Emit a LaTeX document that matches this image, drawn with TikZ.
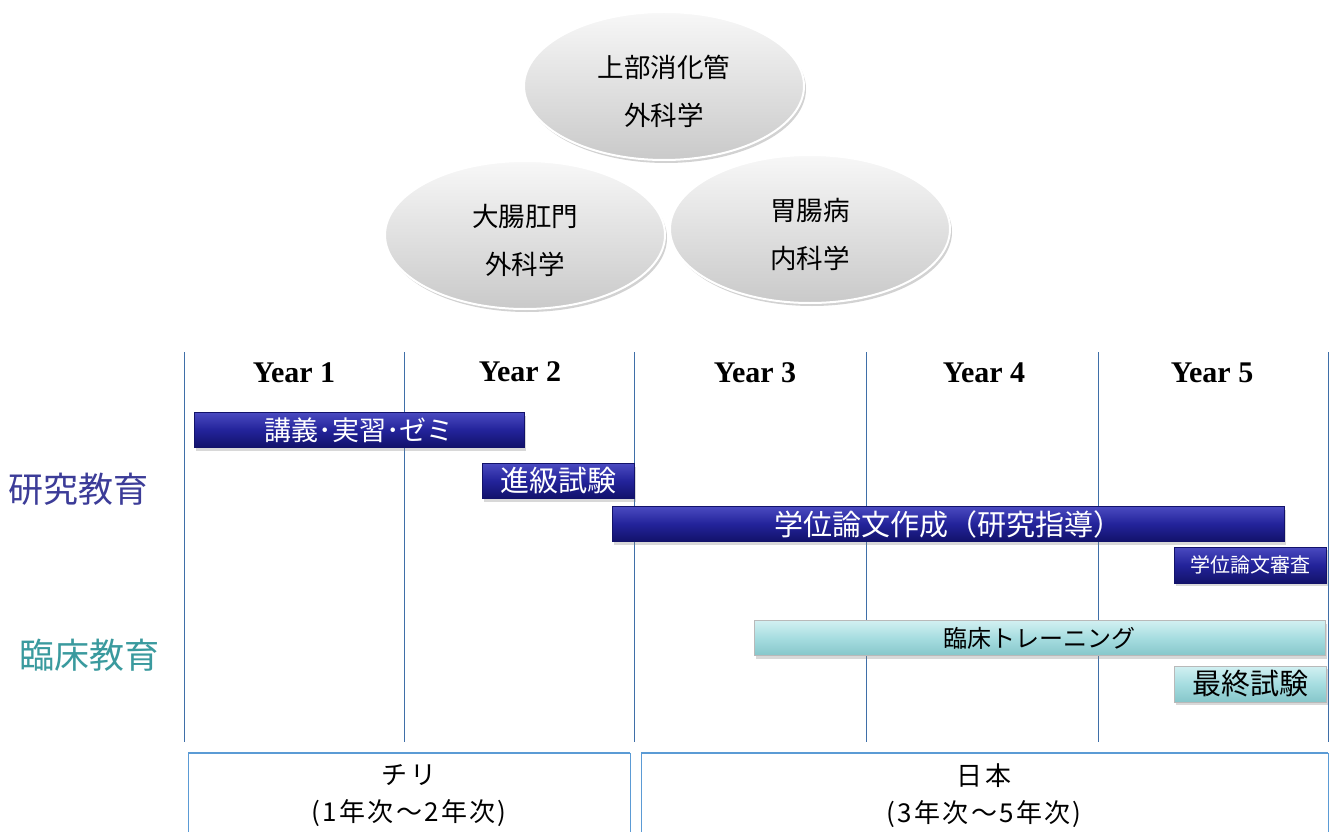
\documentclass[tikz,border=0pt]{standalone}
\usepackage{fontspec}
\setmainfont{Liberation Serif}
\newfontfamily\jp{Noto Sans CJK JP}
\newfontfamily\jpwide{Noto Sans CJK JP}[LetterSpace=9]
\usetikzlibrary{shadows,shapes.geometric}
\definecolor{barblueT}{HTML}{4A4AC0}
\definecolor{barblueM}{HTML}{23239A}
\definecolor{barblueB}{HTML}{12126A}
\definecolor{barcyanT}{HTML}{D2F0F2}
\definecolor{barcyanM}{HTML}{A6DDE0}
\definecolor{barcyanB}{HTML}{86C6CA}
\definecolor{gridline}{HTML}{3F6FA8}
\definecolor{boxline}{HTML}{5B9BD5}
\definecolor{labblue}{HTML}{3C3C98}
\definecolor{labteal}{HTML}{3A9A9E}
\tikzset{
  x=1pt,y=-1pt,
  oval/.style={ellipse,draw=white,line width=2pt,top color=gray!6,bottom color=gray!42,
    drop shadow={opacity=0.35,shadow xshift=2pt,shadow yshift=-3pt},
    minimum width=280pt,minimum height=148pt,inner sep=0pt,align=center,
    font=\jp\fontsize{26.5}{48}\selectfont},
  bluebar/.style={rectangle,draw=barblueB,line width=0.6pt,top color=barblueT,bottom color=barblueB,middle color=barblueM,
    drop shadow={opacity=0.3,shadow xshift=2pt,shadow yshift=-3pt},
    minimum height=35pt,inner sep=0pt,text=white,font=\jp\fontsize{29}{29}\selectfont},
  cyanbar/.style={rectangle,draw=gray!55,line width=0.6pt,top color=barcyanT,bottom color=barcyanB,middle color=barcyanM,
    drop shadow={opacity=0.3,shadow xshift=2pt,shadow yshift=-3pt},
    minimum height=35pt,inner sep=0pt,text=black,font=\jp\fontsize{24}{24}\selectfont},
  yearlab/.style={font=\bfseries\fontsize{30}{30}\selectfont,inner sep=0pt},
  gline/.style={draw=gridline,line width=0.8pt},
  sidelab/.style={font=\jp\fontsize{35}{35}\selectfont,inner sep=0pt},
  boxtext/.style={font=\jpwide\fontsize{26}{37}\selectfont,align=center,inner sep=0pt},
}
\newcommand{\lift}{\rule{0pt}{34pt}}
\begin{document}
\begin{tikzpicture}
\useasboundingbox[fill=white] (0,0) rectangle (1335,832);
% ellipses
\node[oval] (upper) at (664,86) {\lift 上部消化管\\外科学};
\node[oval] (colon) at (525,235) {\lift 大腸肛門\\外科学};
\node[oval] (gastro) at (810,229) {\lift 胃腸病\\内科学};
% grid lines
\foreach \n/\x in {a/184,b/404,c/634,d/866,e/1098,f/1328}{
  \coordinate (t\n) at (\x,352);
  \coordinate (b\n) at (\x,742);
  \draw[gline] (t\n) -- (b\n);
}
% year labels
\node[yearlab] (y1) at (294,373) {Year 1};
\node[yearlab] (y2) at (520,372) {Year 2};
\node[yearlab] (y3) at (755,373) {Year 3};
\node[yearlab] (y4) at (984,373) {Year 4};
\node[yearlab] (y5) at (1212,373) {Year 5};
% side labels
\node[sidelab,text=labblue] (kenkyu) at (79,489) {研究教育};
\node[sidelab,text=labteal] (rinsho) at (89,655) {臨床教育};
% bars
\node[bluebar,minimum width=330pt,font=\jp\fontsize{27}{27}\selectfont] (lect) at (359,430) {講義･実習･ゼミ};
\node[bluebar,minimum width=152pt] (shinkyu) at (558,481) {進級試験};
\node[bluebar,minimum width=672pt] (thesis) at (948,524) {学位論文作成（研究指導）};
\node[bluebar,minimum width=152pt,minimum height=36pt,font=\jp\fontsize{20}{20}\selectfont] (review) at (1250,565) {学位論文審査};
\node[cyanbar,minimum width=571pt] (clinic) at (1039.5,638) {臨床トレーニング};
\node[cyanbar,minimum width=152pt,minimum height=36pt,font=\jp\fontsize{29}{29}\selectfont] (final) at (1250,684) {最終試験};
% bottom boxes
\draw[boxline,line width=0.8pt] (188,834) -- (188,753);
\draw[boxline,line width=0.8pt] (630,753) -- (630,834);
\draw[boxline,line width=2pt] (188,753) -- (630,753);
\draw[boxline,line width=0.8pt] (641,834) -- (641,753);
\draw[boxline,line width=0.8pt] (1328,753) -- (1328,834);
\draw[boxline,line width=2pt] (641,753) -- (1328,753);
\node[boxtext] (chile) at (409,796) {チリ\\(1年次～2年次)};
\node[boxtext] (japan) at (984,796) {日本\\(3年次～5年次)};
\end{tikzpicture}
\end{document}
